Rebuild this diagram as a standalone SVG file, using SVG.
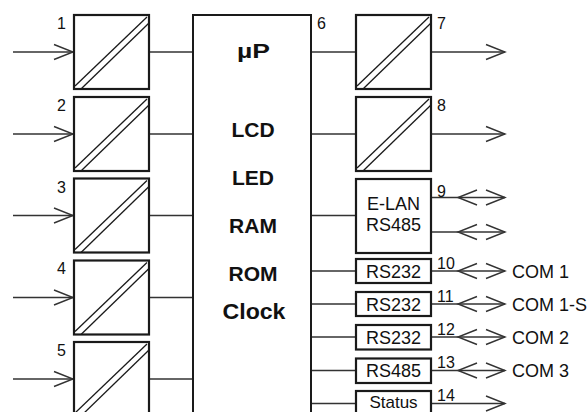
<svg xmlns="http://www.w3.org/2000/svg" xmlns:xlink="http://www.w3.org/1999/xlink" width="587" height="412" viewBox="0 0 587 412">
<style>
  .box{fill:#fff;stroke:#1a1a1a;stroke-width:2.2}
  .diag{stroke:#1a1a1a;stroke-width:1.3;fill:none}
  .ln{stroke:#333;stroke-width:1.4;fill:none}
  .num{font-family:"Liberation Sans",Arial,sans-serif;font-size:16px;fill:#111}
  .lbl{font-family:"Liberation Sans",Arial,sans-serif;font-size:18px;fill:#111}
  .big{font-family:"Liberation Sans",Arial,sans-serif;font-size:21px;font-weight:bold;fill:#111;text-anchor:middle}
  .mid{text-anchor:middle}
  .end{text-anchor:end}
</style>
<defs>
  <marker id="arr" markerUnits="userSpaceOnUse" markerWidth="22" markerHeight="18" viewBox="-20 -9 22 18" refX="0" refY="0" orient="auto" overflow="visible">
    <path d="M-19,-7.5 L0,0 L-19,7.5" fill="none" stroke="#333" stroke-width="1.4"/>
  </marker>
  <marker id="arrL" markerUnits="userSpaceOnUse" markerWidth="22" markerHeight="18" viewBox="-2 -9 22 18" refX="0" refY="0" orient="auto" overflow="visible">
    <path d="M19,-7.5 L0,0 L19,7.5" fill="none" stroke="#333" stroke-width="1.4"/>
  </marker>
  <g id="conv">
    <rect class="box" x="0" y="0" width="75" height="74"/>
    <line class="diag" x1="1" y1="71" x2="73" y2="2"/>
    <line class="diag" x1="7" y1="74" x2="75" y2="8"/>
  </g>
</defs>

<g id="connectors">
  <line class="ln" x1="13" y1="52" x2="73" y2="52" marker-end="url(#arr)"/>
  <line class="ln" x1="13" y1="134" x2="73" y2="134" marker-end="url(#arr)"/>
  <line class="ln" x1="13" y1="215.5" x2="73" y2="215.5" marker-end="url(#arr)"/>
  <line class="ln" x1="13" y1="297.5" x2="73" y2="297.5" marker-end="url(#arr)"/>
  <line class="ln" x1="13" y1="379" x2="73" y2="379" marker-end="url(#arr)"/>
  <line class="ln" x1="149" y1="52" x2="193" y2="52"/>
  <line class="ln" x1="149" y1="134" x2="193" y2="134"/>
  <line class="ln" x1="149" y1="215.5" x2="193" y2="215.5"/>
  <line class="ln" x1="149" y1="297.5" x2="193" y2="297.5"/>
  <line class="ln" x1="149" y1="379" x2="193" y2="379"/>
  <line class="ln" x1="311" y1="52" x2="356" y2="52"/>
  <line class="ln" x1="311" y1="134" x2="356" y2="134"/>
  <line class="ln" x1="311" y1="215.5" x2="356" y2="215.5"/>
  <line class="ln" x1="311" y1="271" x2="356" y2="271"/>
  <line class="ln" x1="311" y1="304" x2="356" y2="304"/>
  <line class="ln" x1="311" y1="337" x2="356" y2="337"/>
  <line class="ln" x1="311" y1="370.5" x2="356" y2="370.5"/>
  <line class="ln" x1="311" y1="403.5" x2="356" y2="403.5"/>
  <line class="ln" x1="431" y1="52" x2="505" y2="52" marker-end="url(#arr)"/>
  <line class="ln" x1="431" y1="134" x2="505" y2="134" marker-end="url(#arr)"/>
  <polyline class="ln" points="431,197.5 458,197.5 505,197.5" marker-mid="url(#arrL)" marker-end="url(#arr)"/>
  <polyline class="ln" points="431,232 458,232 505,232" marker-mid="url(#arrL)" marker-end="url(#arr)"/>
  <polyline class="ln" points="431,271 458,271 505,271" marker-mid="url(#arrL)" marker-end="url(#arr)"/>
  <polyline class="ln" points="431,304 458,304 505,304" marker-mid="url(#arrL)" marker-end="url(#arr)"/>
  <polyline class="ln" points="431,337 458,337 505,337" marker-mid="url(#arrL)" marker-end="url(#arr)"/>
  <polyline class="ln" points="431,370.5 458,370.5 505,370.5" marker-mid="url(#arrL)" marker-end="url(#arr)"/>
  <line class="ln" x1="431" y1="403.5" x2="505" y2="403.5" marker-end="url(#arr)"/>
</g>

<g id="in1"><use xlink:href="#conv" x="74" y="15"/><text class="num end" x="66" y="29">1</text></g>
<g id="in2"><use xlink:href="#conv" x="74" y="97"/><text class="num end" x="66" y="111">2</text></g>
<g id="in3"><use xlink:href="#conv" x="74" y="178.5"/><text class="num end" x="66" y="193">3</text></g>
<g id="in4"><use xlink:href="#conv" x="74" y="260.5"/><text class="num end" x="66" y="274">4</text></g>
<g id="in5"><use xlink:href="#conv" x="74" y="342"/><text class="num end" x="66" y="356">5</text></g>

<g id="main">
  <rect x="193" y="15" width="118" height="410" fill="#fff" stroke="#1a1a1a" stroke-width="2"/>
  <text class="num" x="317" y="29">6</text>
  <text class="big" x="253.5" y="57.5" font-size="22" textLength="33" lengthAdjust="spacingAndGlyphs">µP</text>
  <text class="big" x="253" y="137">LCD</text>
  <text class="big" x="253" y="185">LED</text>
  <text class="big" x="253" y="233">RAM</text>
  <text class="big" x="253" y="281">ROM</text>
  <text class="big" x="254" y="318.5" style="font-size:22px" textLength="63" lengthAdjust="spacingAndGlyphs">Clock</text>
</g>

<g id="out7"><use xlink:href="#conv" x="356" y="15"/><text class="num" x="437" y="29">7</text></g>
<g id="out8"><use xlink:href="#conv" x="356" y="97"/><text class="num" x="437" y="111">8</text></g>

<g id="elan">
  <rect class="box" x="356" y="179" width="75" height="74"/>
  <text class="lbl mid" x="393.5" y="209.5">E-LAN</text>
  <text class="lbl mid" x="393.5" y="231">RS485</text>
  <text class="num" x="437" y="196.5">9</text>
</g>

<g id="com1">
  <rect class="box" x="356" y="259" width="75" height="24"/>
  <text class="lbl mid" x="393.5" y="277.5">RS232</text>
  <text class="num" x="437" y="269">10</text>
  <text class="lbl" x="512" y="277.5">COM 1</text>
</g>
<g id="com1s">
  <rect class="box" x="356" y="292" width="75" height="24"/>
  <text class="lbl mid" x="393.5" y="310.5">RS232</text>
  <text class="num" x="437" y="302">11</text>
  <text class="lbl" x="512" y="310.5">COM 1-S</text>
</g>
<g id="com2">
  <rect class="box" x="356" y="325" width="75" height="24.5"/>
  <text class="lbl mid" x="393.5" y="343.5">RS232</text>
  <text class="num" x="437" y="335">12</text>
  <text class="lbl" x="512" y="343.5">COM 2</text>
</g>
<g id="com3">
  <rect class="box" x="356" y="358.5" width="75" height="24.5"/>
  <text class="lbl mid" x="393.5" y="377">RS485</text>
  <text class="num" x="437" y="368">13</text>
  <text class="lbl" x="512" y="377">COM 3</text>
</g>
<g id="status">
  <rect class="box" x="356" y="391" width="75" height="30"/>
  <text class="lbl mid" x="393.5" y="408" style="font-size:17px">Status</text>
  <text class="num" x="437" y="401">14</text>
</g>
</svg>
